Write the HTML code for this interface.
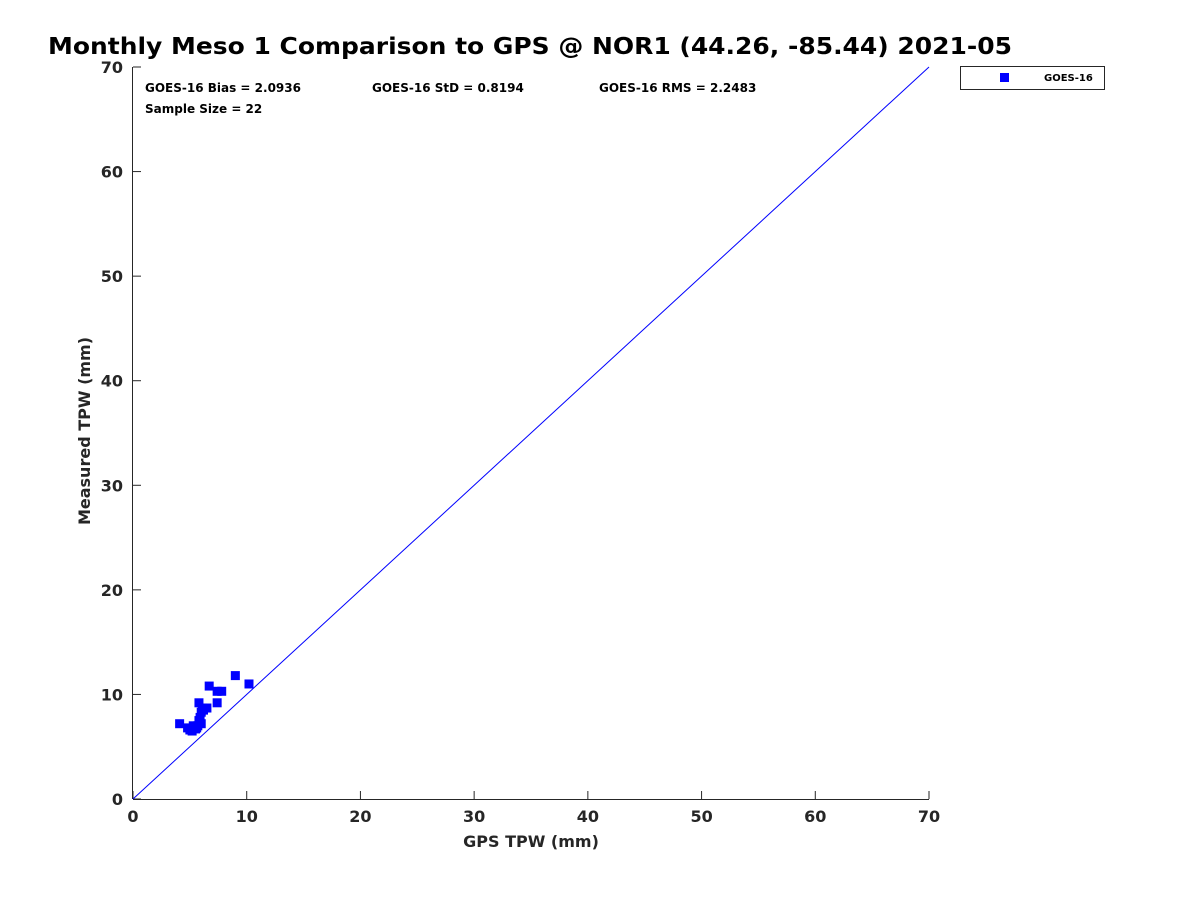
<!DOCTYPE html>
<html><head><meta charset="utf-8"><style>
body{margin:0;background:#fff;font-family:"DejaVu Sans",sans-serif}
</style></head><body>
<svg id="chart" width="1200" height="900" font-family="DejaVu Sans, Liberation Sans, sans-serif">
<rect width="1200" height="900" fill="#fff"/>
<text x="48" y="54" font-size="23.5" font-weight="bold" textLength="964" lengthAdjust="spacingAndGlyphs">Monthly Meso 1 Comparison to GPS @ NOR1 (44.26, -85.44) 2021-05</text>
<g font-size="12" font-weight="bold">
<text x="145" y="92">GOES-16 Bias = 2.0936</text>
<text x="372" y="92">GOES-16 StD = 0.8194</text>
<text x="599" y="92">GOES-16 RMS = 2.2483</text>
<text x="145" y="113">Sample Size = 22</text>
</g>
<g id="axes"></g>
<g id="marks"></g>
<g>
<rect x="960.5" y="66.5" width="144" height="23" fill="#fff" stroke="#262626"/>
<rect x="1000" y="73" width="9" height="9" fill="#0000ff"/>
<text x="1044" y="81" font-size="10" font-weight="bold">GOES-16</text>
</g>
<text x="531" y="847" font-size="16" font-weight="bold" fill="#262626" text-anchor="middle">GPS TPW (mm)</text>
<text transform="translate(90,431) rotate(-90)" font-size="16" font-weight="bold" fill="#262626" text-anchor="middle">Measured TPW (mm)</text>
</svg>
<script>
const xTicks=[0,10,20,30,40,50,60,70];
const yTicks=[0,10,20,30,40,50,60,70];
const gpsX=[4.1,4.8,5.2,5.5,5.3,5.7,5.8,5.9,6.0,6.1,5.8,6.5,6.7,7.4,7.4,7.8,9.0,10.2,5.0,6.2,5.6,6.0];
const measY=[7.2,6.8,6.5,6.7,7.0,7.0,7.5,7.8,8.3,8.7,9.2,8.7,10.8,9.2,10.3,10.3,11.8,11.0,6.6,8.5,6.8,7.2];
const X0=133,X1=929,Y0=799,Y1=67;
const sx=v=>X0+(X1-X0)*v/70, sy=v=>Y0-(Y0-Y1)*v/70;
const NS='http://www.w3.org/2000/svg';
const ax=document.getElementById('axes'), mk=document.getElementById('marks');
function el(t,a,p){const e=document.createElementNS(NS,t);for(const k in a)e.setAttribute(k,a[k]);p.appendChild(e);return e;}
const xa=el('line',{x1:X0,y1:Y0+.5,x2:X1,y2:Y0+.5,stroke:'#262626'},ax);


const ya=el('line',{x1:X0-.5,y1:Y0,x2:X0-.5,y2:Y1,stroke:'#262626'},ax);


xTicks.forEach(v=>{
 el('line',{x1:sx(v),y1:Y0,x2:sx(v),y2:Y0-8,stroke:'#262626'},ax);
 const t=el('text',{x:sx(v),y:Y0+23,'font-size':16,'font-weight':'bold',fill:'#262626','text-anchor':'middle'},ax);
 t.textContent=v;
 
 
});
yTicks.forEach(v=>{
 el('line',{x1:X0,y1:sy(v),x2:X0+8,y2:sy(v),stroke:'#262626'},ax);
 const t=el('text',{x:X0-10,y:sy(v)+6,'font-size':16,'font-weight':'bold',fill:'#262626','text-anchor':'end'},ax);
 t.textContent=v;
 
 
});
const ref=el('line',{x1:sx(0),y1:sy(0),x2:sx(70),y2:sy(70),stroke:'#0000ff','stroke-width':1},mk);


gpsX.forEach((x,i)=>{
 const r=el('rect',{x:sx(x)-4.5,y:sy(measY[i])-4.5,width:9,height:9,fill:'#0000ff'},mk);
 
 
});
</script>
</body></html>
